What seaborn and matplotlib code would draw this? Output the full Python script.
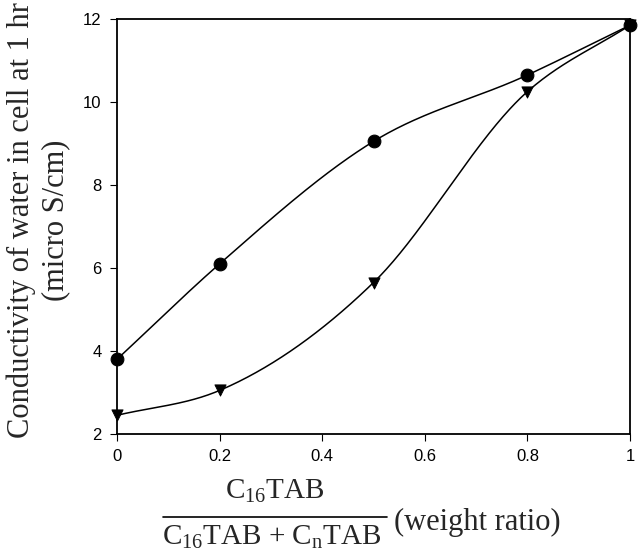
import numpy as np
import pandas as pd
import matplotlib
matplotlib.use("Agg")
import matplotlib.pyplot as plt
import seaborn as sns

# ---- data ----
ratio = [0.0, 0.2, 0.5, 0.8, 1.0]
circle_vals = [3.8, 6.1, 9.05, 10.65, 11.85]
triangle_vals = [2.45, 3.05, 5.65, 10.25, 11.85]
xticks = [0, 0.2, 0.4, 0.6, 0.8, 1]
xticklabels = ["0", "0.2", "0.4", "0.6", "0.8", "1"]
yticks = [2, 4, 6, 8, 10, 12]
yticklabels = ["2", "4", "6", "8", "10", "12"]


def smooth_curve(x, y, xs):
    """Cubic Hermite curve through the data points (three-point slopes)."""
    x = np.asarray(x, float)
    y = np.asarray(y, float)
    h = np.diff(x)
    d = np.diff(y) / h
    n = len(x)
    m = np.zeros(n)
    for k in range(1, n - 1):
        m[k] = (h[k] * d[k - 1] + h[k - 1] * d[k]) / (h[k - 1] + h[k])
    m[0] = d[0]
    m[-1] = d[-1]
    out = np.empty_like(xs)
    for i, xv in enumerate(xs):
        k = min(np.searchsorted(x, xv, side="right") - 1, n - 2)
        t = (xv - x[k]) / h[k]
        h00 = 2 * t**3 - 3 * t**2 + 1
        h10 = t**3 - 2 * t**2 + t
        h01 = -2 * t**3 + 3 * t**2
        h11 = t**3 - t**2
        out[i] = h00 * y[k] + h10 * h[k] * m[k] + h01 * y[k + 1] + h11 * h[k] * m[k + 1]
    return out


sns.set_style("ticks")
plt.rcParams["font.family"] = ["Liberation Sans", "DejaVu Sans"]
plt.rcParams["mathtext.fontset"] = "custom"
plt.rcParams["mathtext.rm"] = "Liberation Serif"
plt.rcParams["mathtext.it"] = "Liberation Serif:italic"

fig = plt.figure(figsize=(6.38, 5.59), dpi=100)
ax = fig.add_axes([117 / 638, 1 - 434 / 559, (630 - 117) / 638, (434 - 19) / 559])

xs = np.linspace(0, 1, 300)
curves = pd.DataFrame({
    "x": np.concatenate([xs, xs]),
    "y": np.concatenate([smooth_curve(ratio, circle_vals, xs),
                         smooth_curve(ratio, triangle_vals, xs)]),
    "s": ["c"] * len(xs) + ["t"] * len(xs),
})
sns.lineplot(data=curves, x="x", y="y", units="s", estimator=None, color="black",
             linewidth=1.1, ax=ax, sort=False)

pts_c = pd.DataFrame({"x": ratio, "y": circle_vals})
pts_t = pd.DataFrame({"x": ratio, "y": triangle_vals})
sns.scatterplot(data=pts_c, x="x", y="y", marker="o", s=85, color="black",
                edgecolor="black", ax=ax, clip_on=False, zorder=5)
sns.scatterplot(data=pts_t, x="x", y="y", marker="v", s=65, color="black",
                edgecolor="black", ax=ax, clip_on=False, zorder=5)

ax.set_xlim(0, 1)
ax.set_ylim(2, 12)
ax.set_xticks(xticks)
ax.set_xticklabels(xticklabels)
ax.set_yticks(yticks)
ax.set_yticklabels(yticklabels)
ax.tick_params(direction="out", length=5, width=0.8, labelsize=12, colors="black", pad=6)
for sp in ax.spines.values():
    sp.set_visible(True)
    sp.set_linewidth(1.3)
    sp.set_color("black")
ax.set_xlabel("")
ax.set_ylabel("")

serif = ["Liberation Serif", "DejaVu Serif"]
fig.text(21 / 638, 1 - 220 / 559, "Conductivity of water in cell at 1 hr",
         rotation=90, ha="center", va="center", fontsize=22, family=serif)
fig.text(56 / 638, 1 - 220 / 559, "(micro S/cm)",
         rotation=90, ha="center", va="center", fontsize=22, family=serif)

fig.text(275 / 638, 1 - 491 / 559, "C$_{16}$TAB", ha="center", va="center",
         fontsize=21, family=serif)
fig.add_artist(plt.Line2D([163 / 638, 387 / 638], [1 - 517 / 559, 1 - 517 / 559],
                          color="black", linewidth=1.2))
fig.text(272 / 638, 1 - 537 / 559, "C$_{16}$TAB + C$_{\\rm n}$TAB", ha="center", va="center",
         fontsize=21, family=serif)
fig.text(394 / 638, 1 - 522 / 559, "(weight ratio)", ha="left", va="center",
         fontsize=22, family=serif)

fig.savefig("out.png", dpi=100)
